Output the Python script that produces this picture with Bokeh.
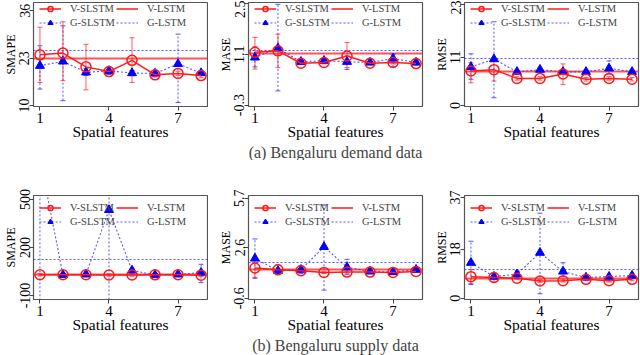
import math
from bokeh.plotting import figure
from bokeh.layouts import column, row
from bokeh.models import FixedTicker, Range1d, Legend, LegendItem, Title, ColumnDataSource
from bokeh.embed import file_html
from bokeh.resources import INLINE

features = [1, 2, 3, 4, 5, 6, 7, 8]
x_ticks = [1, 4, 7]
x_label = "Spatial features"
captions = ["(a) Bengaluru demand data", "(b) Bengaluru supply data"]
series_names = ["V-SLSTM", "V-LSTM", "G-SLSTM", "G-LSTM"]

# ---- (a) demand: SMAPE
a_smape_v = [23.9, 24.4, 20.6, 19.3, 22.4, 18.4, 18.8, 18.2]
a_smape_v_hi = [31.5, 33.0, 26.8, 19.9, 28.6, 19.0, 19.4, 18.8]
a_smape_v_lo = [16.3, 16.8, 14.3, 18.7, 16.3, 17.8, 18.2, 17.6]
a_smape_g = [20.9, 22.1, 19.1, 19.5, 18.9, 18.8, 21.4, 18.9]
a_smape_g_hi = [26.4, 31.9, 20.2, 20.5, 19.6, 19.5, 29.6, 19.6]
a_smape_g_lo = [14.5, 11.3, 18.2, 18.5, 18.2, 18.1, 10.8, 18.2]
a_smape_vlstm = 22.9
a_smape_glstm = 25.0
a_smape_ticks = [10, 23, 36]
a_smape_labels = ["10", "23", "36"]

# ---- (a) demand: MASE
a_mase_v = [1.15, 1.19, 0.85, 0.87, 1.05, 0.85, 0.87, 0.84]
a_mase_v_hi = [1.56, 1.65, 0.89, 0.91, 1.42, 0.89, 0.91, 0.88]
a_mase_v_lo = [0.69, 0.73, 0.81, 0.83, 0.73, 0.81, 0.83, 0.80]
a_mase_g = [1.01, 1.26, 0.89, 0.92, 0.89, 0.87, 0.98, 0.87]
a_mase_g_hi = [1.30, 2.47, 0.93, 0.96, 1.05, 0.91, 1.10, 0.91]
a_mase_g_lo = [0.75, 0.09, 0.85, 0.88, 0.68, 0.83, 0.75, 0.83]
a_mase_vlstm = 1.12
a_mase_glstm = 1.21
a_mase_ticks = [-0.3, 1.1, 2.5]
a_mase_labels = ["-0.3", "1.1", "2.5"]

# ---- (a) demand: RMSE
a_rmse_v = [7.9, 8.2, 6.2, 6.2, 7.2, 6.0, 6.2, 6.0]
a_rmse_v_hi = [9.8, 10.2, 6.6, 6.6, 9.5, 6.4, 6.6, 6.4]
a_rmse_v_lo = [5.2, 5.6, 5.8, 5.8, 4.8, 5.6, 5.8, 5.6]
a_rmse_g = [8.8, 10.6, 7.7, 8.2, 7.7, 7.7, 8.5, 7.7]
a_rmse_g_hi = [11.8, 19.1, 8.1, 8.6, 8.1, 8.1, 10.2, 8.1]
a_rmse_g_lo = [6.0, 1.8, 7.3, 7.8, 7.3, 7.3, 7.2, 7.3]
a_rmse_vlstm = 7.8
a_rmse_glstm = 10.8
a_rmse_ticks = [0, 11, 23]
a_rmse_labels = ["0", "11", "23"]

# ---- (b) supply: SMAPE
b_smape_v = [30, 30, 30, 28, 28, 29, 30, 27]
b_smape_v_hi = [38, 38, 38, 36, 36, 37, 38, 35]
b_smape_v_lo = [22, 22, 22, 20, 20, 21, 22, 19]
b_smape_g = [760, 28, 32, 435, 57, 28, 32, 43]
b_smape_g_hi = [1700, 35, 40, 1050, 65, 35, 40, 95]
b_smape_g_lo = [-180, 20, 24, -200, 49, 20, 24, -20]
b_smape_vlstm = 30
b_smape_glstm = 127
b_smape_ticks = [-100, 200, 500]
b_smape_labels = ["-100", "200", "500"]

# ---- (b) supply: MASE
b_mase_v = [1.31, 1.20, 1.13, 1.03, 1.05, 1.05, 1.03, 1.09]
b_mase_v_hi = [1.63, 1.52, 1.20, 1.10, 1.12, 1.12, 1.10, 1.16]
b_mase_v_lo = [0.70, 0.88, 1.06, 0.96, 0.98, 0.98, 0.96, 1.02]
b_mase_g = [1.91, 1.13, 1.20, 2.64, 1.35, 1.09, 1.05, 1.20]
b_mase_g_hi = [3.14, 1.20, 1.45, 5.29, 1.85, 1.16, 1.12, 1.27]
b_mase_g_lo = [0.66, 1.06, 0.95, -0.09, 0.88, 1.02, 0.98, 1.13]
b_mase_vlstm = 1.22
b_mase_glstm = 1.63
b_mase_ticks = [-0.6, 2.6, 5.7]
b_mase_labels = ["-0.6", "2.6", "5.7"]

# ---- (b) supply: RMSE
b_rmse_v = [7.9, 7.6, 7.3, 6.3, 6.4, 6.9, 6.4, 6.9]
b_rmse_v_hi = [10.5, 9.2, 7.8, 6.8, 6.9, 7.4, 6.9, 7.4]
b_rmse_v_lo = [5.4, 6.0, 6.8, 5.8, 5.9, 6.4, 5.9, 6.4]
b_rmse_g = [13.0, 7.9, 8.8, 16.7, 9.8, 7.6, 7.9, 8.3]
b_rmse_g_hi = [20.9, 8.5, 10.0, 31.2, 13.0, 8.1, 8.4, 8.8]
b_rmse_g_lo = [5.0, 7.3, 7.6, 1.6, 7.9, 7.1, 7.4, 7.8]
b_rmse_vlstm = 7.3
b_rmse_glstm = 10.5
b_rmse_ticks = [0, 18, 37]
b_rmse_labels = ["0", "18", "37"]

FONT = "Liberation Serif"
RED = "#ff1a1a"
LRED = "#ff4040"
BLUE = "#0000ff"
LBLUE = "#3a3aff"

COL_W = [208, 216, 216]
COL_LEFT = [33, 40, 40]
COL_RIGHT = [1, 2, 2]
FRAME_H = 104


def make_panel(col, v, v_lo, v_hi, g, g_lo, g_hi, vlstm, glstm, ticks, labels,
               yrange, ylabel, top_row, caption=None):
    if top_row:
        h, bt, bb = 160, 2, 54
        leg_y = FRAME_H - 27
    else:
        h, bt, bb = 195, 35, 56
        leg_y = FRAME_H - 33
    p = figure(width=COL_W[col], height=h, output_backend="svg", toolbar_location=None,
               x_range=Range1d(0.72, 8.28), y_range=Range1d(*yrange),
               min_border_left=COL_LEFT[col], min_border_right=COL_RIGHT[col],
               min_border_top=bt, min_border_bottom=bb)
    p.grid.visible = False
    p.outline_line_color = "#555555"
    p.outline_line_width = 1.2
    p.background_fill_color = "white"

    src = ColumnDataSource(dict(x=features, v=v, v_lo=v_lo, v_hi=v_hi,
                                g=g, g_lo=g_lo, g_hi=g_hi))

    # horizontal reference lines
    r_glstm = p.hspan(y=[glstm], line_color=LBLUE, line_dash="2 2", line_width=1.1,
                      line_alpha=0.85)
    r_vlstm = p.hspan(y=[vlstm], line_color=LRED, line_width=2, line_alpha=0.9)

    # G error bars
    p.segment(x0="x", y0="g_lo", x1="x", y1="g_hi", source=src,
              line_color=LBLUE, line_dash="2 2", line_width=1, line_alpha=0.85)
    p.scatter(x="x", y="g_hi", source=src, marker="dash", size=5,
              line_color=LBLUE, line_width=1, line_alpha=0.85)
    p.scatter(x="x", y="g_lo", source=src, marker="dash", size=5,
              line_color=LBLUE, line_width=1, line_alpha=0.85)
    # V error bars
    p.segment(x0="x", y0="v_lo", x1="x", y1="v_hi", source=src,
              line_color=RED, line_width=1, line_alpha=0.7)
    p.scatter(x="x", y="v_hi", source=src, marker="dash", size=5,
              line_color=RED, line_width=1, line_alpha=0.7)
    p.scatter(x="x", y="v_lo", source=src, marker="dash", size=5,
              line_color=RED, line_width=1, line_alpha=0.7)

    # G-SLSTM
    g_line = p.line(x="x", y="g", source=src, line_color=LBLUE, line_dash="2 2",
                    line_width=1.1, line_alpha=0.85)
    g_pts = p.scatter(x="x", y="g", source=src, marker="triangle", size=9,
                      fill_color=BLUE, line_color=BLUE)
    # V-SLSTM
    v_line = p.line(x="x", y="v", source=src, line_color=RED, line_width=1.5)
    v_pts = p.scatter(x="x", y="v", source=src, marker="circle", size=10,
                      fill_alpha=0, line_color=RED, line_width=1.5)

    legend = Legend(items=[
        LegendItem(label=series_names[0], renderers=[v_line, v_pts]),
        LegendItem(label=series_names[1], renderers=[r_vlstm]),
        LegendItem(label=series_names[2], renderers=[g_line, g_pts]),
        LegendItem(label=series_names[3], renderers=[r_glstm]),
    ], orientation="horizontal", ncols=2, location=(6, leg_y),
        background_fill_alpha=0, border_line_alpha=0,
        label_text_font=FONT, label_text_font_size="10.5px",
        glyph_width=22, glyph_height=13, label_height=13, label_standoff=9,
        spacing=1, padding=0, margin=0)
    p.add_layout(legend)

    xa = p.xaxis[0]
    xa.ticker = FixedTicker(ticks=x_ticks)
    xa.axis_label = x_label
    ya = p.yaxis[0]
    ya.ticker = FixedTicker(ticks=ticks)
    ya.major_label_overrides = {t: s for t, s in zip(ticks, labels)}
    ya.axis_label = ylabel
    ya.major_label_orientation = "vertical"
    for ax in (xa, ya):
        ax.axis_line_color = None
        ax.major_tick_in = 0
        ax.major_tick_out = 4
        ax.major_tick_line_color = "#444444"
        ax.minor_tick_line_color = None
        ax.major_label_text_font = FONT
        ax.axis_label_text_font = FONT
        ax.axis_label_text_font_style = "normal"
        ax.major_label_text_color = "black"
        ax.axis_label_text_color = "black"
    xa.major_label_standoff = 2
    xa.axis_label_standoff = -3
    ya.major_label_standoff = 0
    ya.axis_label_standoff = -1
    xa.major_label_text_font_size = "15px"
    xa.axis_label_text_font_size = "15.5px"
    ya.major_label_text_font_size = "14px"
    ya.axis_label_text_font_size = "12px"

    if caption is not None:
        p.add_layout(Title(text=caption, align="center", text_font=FONT,
                           text_font_size="16px", text_font_style="normal",
                           standoff=-2), "below")
    return p


top = [
    make_panel(0, a_smape_v, a_smape_v_lo, a_smape_v_hi, a_smape_g, a_smape_g_lo, a_smape_g_hi,
               a_smape_vlstm, a_smape_glstm, a_smape_ticks, a_smape_labels,
               (9.7, 38.3), "SMAPE", True),
    make_panel(1, a_mase_v, a_mase_v_lo, a_mase_v_hi, a_mase_g, a_mase_g_lo, a_mase_g_hi,
               a_mase_vlstm, a_mase_glstm, a_mase_ticks, a_mase_labels,
               (-0.34, 2.52), "MASE", True, captions[0]),
    make_panel(2, a_rmse_v, a_rmse_v_lo, a_rmse_v_hi, a_rmse_g, a_rmse_g_lo, a_rmse_g_hi,
               a_rmse_vlstm, a_rmse_glstm, a_rmse_ticks, a_rmse_labels,
               (-0.2, 23.5), "RMSE", True),
]
bottom = [
    make_panel(0, b_smape_v, b_smape_v_lo, b_smape_v_hi, b_smape_g, b_smape_g_lo, b_smape_g_hi,
               b_smape_vlstm, b_smape_glstm, b_smape_ticks, b_smape_labels,
               (-125, 525), "SMAPE", False),
    make_panel(1, b_mase_v, b_mase_v_lo, b_mase_v_hi, b_mase_g, b_mase_g_lo, b_mase_g_hi,
               b_mase_vlstm, b_mase_glstm, b_mase_ticks, b_mase_labels,
               (-0.68, 5.88), "MASE", False, captions[1]),
    make_panel(2, b_rmse_v, b_rmse_v_lo, b_rmse_v_hi, b_rmse_g, b_rmse_g_lo, b_rmse_g_hi,
               b_rmse_vlstm, b_rmse_glstm, b_rmse_ticks, b_rmse_labels,
               (-0.5, 37.7), "RMSE", False),
]

p = column(row(*top, spacing=0), row(*bottom, spacing=0), spacing=0)
open("out.html", "w").write(file_html(p, INLINE))
